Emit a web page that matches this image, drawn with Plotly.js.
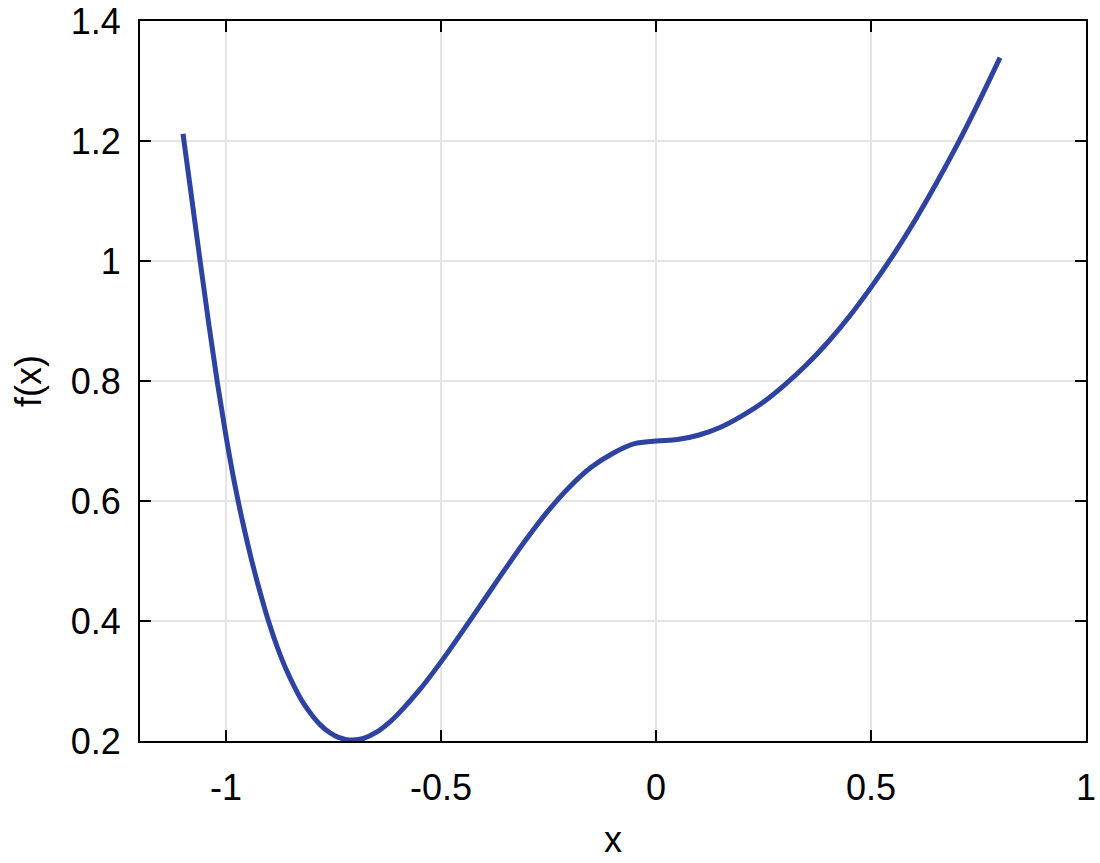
<!DOCTYPE html>
<html>
<head>
<meta charset="utf-8">
<script src="https://cdn.plot.ly/plotly-3.0.1.min.js"></script>
<style>
  html, body { margin: 0; padding: 0; background: #fff; }
  #plot { width: 1100px; height: 863px; }
</style>
</head>
<body>
<div id="plot"></div>
<script>
// points
var xVals = [-1.10, -1.08, -1.06, -1.04, -1.02, -1.00, -0.98, -0.96, -0.94, -0.92,
             -0.90, -0.88, -0.86, -0.84, -0.82, -0.80, -0.78, -0.76, -0.74, -0.72,
             -0.706, -0.68, -0.65, -0.62, -0.60, -0.55, -0.50, -0.45, -0.40, -0.35,
             -0.30, -0.25, -0.20, -0.15, -0.10, -0.05, 0, 0.05, 0.10, 0.15,
             0.20, 0.25, 0.30, 0.35, 0.40, 0.45, 0.50, 0.55, 0.60, 0.65,
             0.70, 0.75, 0.80];
var yVals = [1.212, 1.106, 0.999, 0.895, 0.797, 0.708, 0.629, 0.561, 0.500, 0.446,
             0.397, 0.355, 0.319, 0.289, 0.263, 0.243, 0.2265, 0.2145, 0.2065, 0.2023,
             0.2015, 0.2044, 0.2146, 0.2311, 0.2448, 0.2851, 0.3319, 0.3827, 0.435, 0.4873,
             0.5378, 0.5843, 0.6243, 0.6565, 0.6795, 0.6955, 0.700, 0.7025, 0.710, 0.723,
             0.742, 0.765, 0.794, 0.827, 0.865, 0.908, 0.956, 1.008, 1.065, 1.127,
             1.193, 1.264, 1.339];

var xTicks = [-1, -0.5, 0, 0.5, 1];
var xTickText = ["-1", "-0.5", "0", "0.5", "1"];
var yTicks = [0.2, 0.4, 0.6, 0.8, 1, 1.2, 1.4];
var yTickText = ["0.2", "0.4", "0.6", "0.8", "1", "1.2", "1.4"];

var font = { family: "Liberation Sans, Arial, sans-serif", size: 36, color: "#000" };

var data = [{
    x: xVals,
    y: yVals,
    mode: "lines",
    line: { color: "#2e43a0", width: 5, shape: "spline", smoothing: 1 },
    cliponaxis: false,
    hoverinfo: "none"
}];

var axisCommon = {
    showline: true, linecolor: "#000", linewidth: 2,
    mirror: "ticks",
    ticks: "inside", ticklen: 11, tickwidth: 2, tickcolor: "#000",
    showgrid: true, gridcolor: "#e5e5e5", gridwidth: 2,
    zeroline: false,
    tickfont: font
};

var layout = {
    width: 1100, height: 863,
    margin: { l: 140, r: 14, t: 21, b: 122 },
    paper_bgcolor: "#fff", plot_bgcolor: "#fff",
    showlegend: false,
    font: font,
    xaxis: Object.assign({}, axisCommon, {
        range: [-1.2, 1],
        tickvals: xTicks, ticktext: xTickText,
        ticklabelstandoff: 14,
        title: { text: "x", font: font, standoff: 20 }
    }),
    yaxis: Object.assign({}, axisCommon, {
        range: [0.2, 1.4],
        tickvals: yTicks, ticktext: yTickText,
        ticklabelstandoff: 10,
        title: { text: "f(x)", font: font, standoff: 18 }
    })
};

Plotly.newPlot("plot", data, layout, { displayModeBar: false, staticPlot: true });
</script>
</body>
</html>
